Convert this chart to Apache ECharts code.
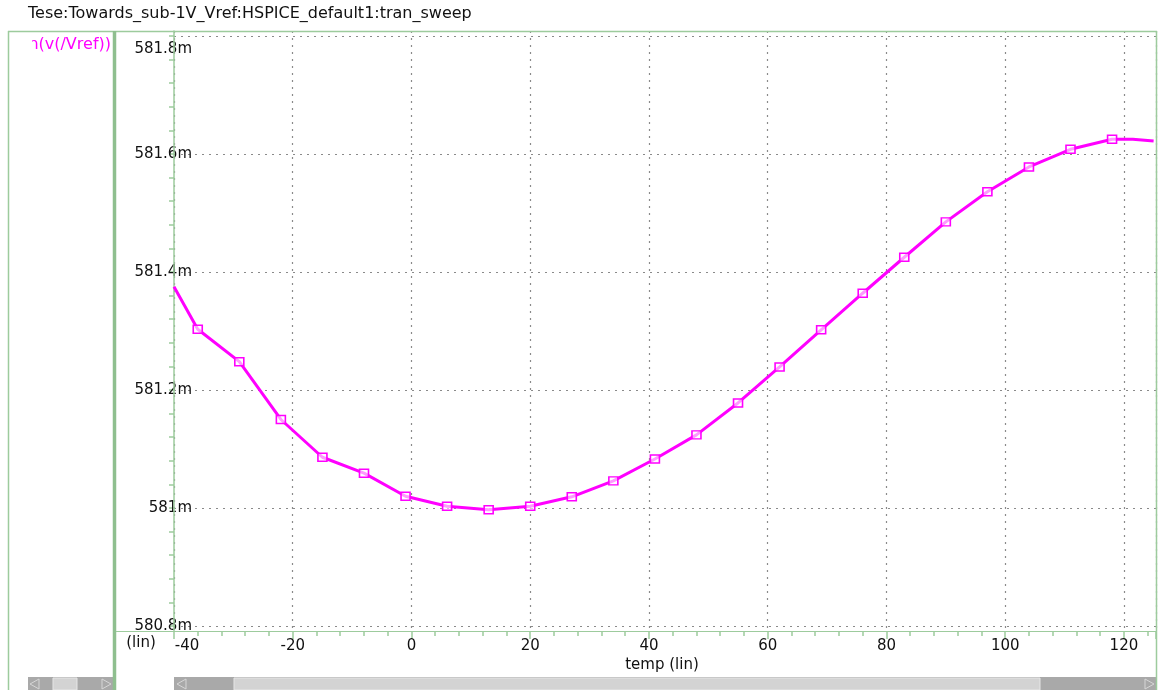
<!DOCTYPE html>
<html>
<head>
<meta charset="utf-8">
<title>tran_sweep</title>
<script src="https://cdn.jsdelivr.net/npm/echarts@6/dist/echarts.min.js"></script>
<style>
html, body { margin: 0; padding: 0; background: #fff; }
#main { width: 1169px; height: 690px; }
</style>
</head>
<body>
<div id="main"></div>
<script>
// 温度扫描点 (°C)
var temps = [-40, -36, -29, -22, -15, -8, -1, 6, 13, 20, 27, 34, 41, 48, 55, 62, 69, 76, 83, 90, 97, 104, 111, 118, 121.5, 125];
// v(/Vref) 单位 mV
var vref = [581.375, 581.303, 581.248, 581.150, 581.086, 581.059, 581.020, 581.003, 580.997, 581.003, 581.019, 581.046,
	581.083, 581.124, 581.178, 581.239, 581.302, 581.364, 581.425, 581.485, 581.536, 581.578, 581.608, 581.625, 581.625, 581.622];
// 是否画方块标记
var marked = [0, 1, 1, 1, 1, 1, 1, 1, 1, 1, 1, 1, 1, 1, 1, 1, 1, 1, 1, 1, 1, 1, 1, 1, 0, 0];

// 坐标轴刻度
var xMin = -40, xMax = 125.4, xStep = 20, xMinorStep = 4;
var yMin = 580.8, yMax = 581.8, yStep = 0.2;
// 绘图区上下边框对应的值 (边框比刻度略宽)
var yFrameMin = 580.7915, yFrameMax = 581.8085;

var green = '#9dcb9d';
var font = 'DejaVu Sans';

var myChart = echarts.init(document.getElementById('main'), null, { renderer: 'canvas' });

var seriesData = temps.map(function (t, i) {
	return {
		value: [t, vref[i]],
		symbol: marked[i] ? 'rect' : 'none'
	};
});

function arrow(x, y, dir) {
	// 滚动条小三角
	var pts = dir < 0
		? [[x + 9, y], [x, y + 5], [x + 9, y + 10]]
		: [[x, y], [x + 9, y + 5], [x, y + 10]];
	return {
		type: 'polygon', z: 100,
		shape: { points: pts },
		style: { fill: 'rgba(0,0,0,0)', stroke: '#d6d6d6', lineWidth: 1 }
	};
}

var option = {
	animation: false,
	backgroundColor: '#fff',
	grid: [
		// 数据区
		{ left: 174, right: 13, top: 31, bottom: 59 },
		// 刻度/网格区
		{ left: 174, right: 13, top: 36, bottom: 64 }
	],
	xAxis: [
		{
			gridIndex: 0, type: 'value', position: 'bottom',
			min: xMin, max: xMax, interval: xMinorStep,
			axisLine: { show: true, onZero: false, lineStyle: { color: green, width: 1 } },
			axisTick: { show: true, length: 5, lineStyle: { color: green, width: 1.5 } },
			axisLabel: {
				interval: 0, margin: 8,
				color: '#111', fontFamily: font, fontSize: 15,
				formatter: function (v) {
					if (Math.abs(v % xStep) > 1e-6) return '';
					if (v === xMin) return '{first|' + v + '}';
					return String(v);
				},
				rich: { first: { padding: [0, 0, 0, 26], color: '#111', fontFamily: font, fontSize: 15 } }
			},
			splitLine: { show: false }
		},
		{
			gridIndex: 0, type: 'value', position: 'bottom',
			min: xMin, max: xMax, interval: xStep,
			axisLine: { show: false, onZero: false },
			axisTick: { show: true, length: 8, lineStyle: { color: green, width: 1.5 } },
			axisLabel: { show: false },
			splitLine: { show: true, lineStyle: { color: '#8a8a8a', type: [2, 5], width: 1.2 } }
		},
		{ gridIndex: 1, type: 'value', min: xMin, max: xMax, show: false, axisLine: { onZero: false } }
	],
	yAxis: [
		{
			gridIndex: 0, type: 'value', z: 3, position: 'left',
			min: yFrameMin, max: yFrameMax,
			axisLine: { show: true, onZero: false, lineStyle: { color: green, width: 1.5 } },
			axisTick: { show: false },
			axisLabel: { show: false },
			splitLine: { show: false }
		},
		{
			gridIndex: 1, type: 'value', position: 'left',
			min: yMin, max: yMax, interval: yStep,
			axisLine: { show: false, onZero: false },
			axisTick: { show: true, length: 5, lineStyle: { color: green, width: 1.5 } },
			minorTick: { show: true, splitNumber: 5, length: 5, lineStyle: { color: green, width: 1.5 } },
			axisLabel: {
				margin: -18, color: '#111', fontFamily: font, fontSize: 15,
				formatter: function (v) {
					var s = (+v.toFixed(1)) + 'm';
					return Math.abs(v - yMax) < 1e-6 ? '{top|' + s + '}' : s;
				},
				rich: { top: { padding: [26, 0, 0, 0], color: '#111', fontFamily: font, fontSize: 15 } }
			},
			splitLine: { show: true, lineStyle: { color: '#8a8a8a', type: [2, 5], width: 1.2 } }
		}
	],
	series: [
		{
			type: 'line',
			xAxisIndex: 0, yAxisIndex: 0,
			data: seriesData,
			symbolSize: [9, 8],
			lineStyle: { color: '#ff00ff', width: 3 },
			itemStyle: { color: 'rgba(255,255,255,0.6)', borderColor: '#ff00ff', borderWidth: 1.5 },
			z: 5
		}
	],
	graphic: [
		// 标题
		{
			type: 'text', x: 28, y: 14, z: 100,
			style: { text: 'Tese:Towards_sub-1V_Vref:HSPICE_default1:tran_sweep', fill: '#111', font: '16px "DejaVu Sans"', verticalAlign: 'middle' }
		},
		// 图例文字 (左侧被面板裁掉)
		{
			type: 'text', x: 111, y: 45, z: 100,
			style: { text: 'n(v(/Vref))', fill: '#ff00ff', font: '16px "DejaVu Sans"', align: 'right', verticalAlign: 'middle' }
		},
		{ type: 'rect', z: 101, shape: { x: 9, y: 33, width: 23, height: 26 }, style: { fill: '#fff' } },
		// 边框
		{ type: 'line', z: 102, shape: { x1: 8, y1: 31.5, x2: 1157, y2: 31.5 }, style: { stroke: green, lineWidth: 1.5 } },
		{ type: 'line', z: 102, shape: { x1: 8.5, y1: 31, x2: 8.5, y2: 690 }, style: { stroke: green, lineWidth: 1.5 } },
		{ type: 'line', z: 102, shape: { x1: 114.5, y1: 31, x2: 114.5, y2: 690 }, style: { stroke: '#8fbf8f', lineWidth: 3.5 } },
		{ type: 'line', z: 102, shape: { x1: 1156.5, y1: 31, x2: 1156.5, y2: 690 }, style: { stroke: green, lineWidth: 1.5 } },
		{ type: 'line', z: 102, shape: { x1: 116, y1: 631.5, x2: 174, y2: 631.5 }, style: { stroke: green, lineWidth: 1 } },
		// 坐标轴单位
		{
			type: 'text', x: 141, y: 643, z: 100,
			style: { text: '(lin)', fill: '#111', font: '15px "DejaVu Sans"', align: 'center', verticalAlign: 'middle' }
		},
		{
			type: 'text', x: 662, y: 665, z: 100,
			style: { text: 'temp (lin)', fill: '#111', font: '15px "DejaVu Sans"', align: 'center', verticalAlign: 'middle' }
		},
		// 底部滚动条
		{ type: 'rect', z: 99, shape: { x: 174, y: 677, width: 982, height: 13 }, style: { fill: '#a9a9a9' } },
		{ type: 'rect', z: 99, shape: { x: 234, y: 678, width: 806, height: 12 }, style: { fill: '#d3d3d3', stroke: '#e6e6e6', lineWidth: 1 } },
		arrow(177, 679, -1),
		arrow(1145, 679, 1),
		// 左侧面板滚动条
		{ type: 'rect', z: 99, shape: { x: 28, y: 677, width: 85, height: 13 }, style: { fill: '#a9a9a9' } },
		{ type: 'rect', z: 99, shape: { x: 53, y: 678, width: 24, height: 12 }, style: { fill: '#d3d3d3', stroke: '#e6e6e6', lineWidth: 1 } },
		arrow(30, 679, -1),
		arrow(102, 679, 1)
	]
};

myChart.setOption(option);
</script>
</body>
</html>
